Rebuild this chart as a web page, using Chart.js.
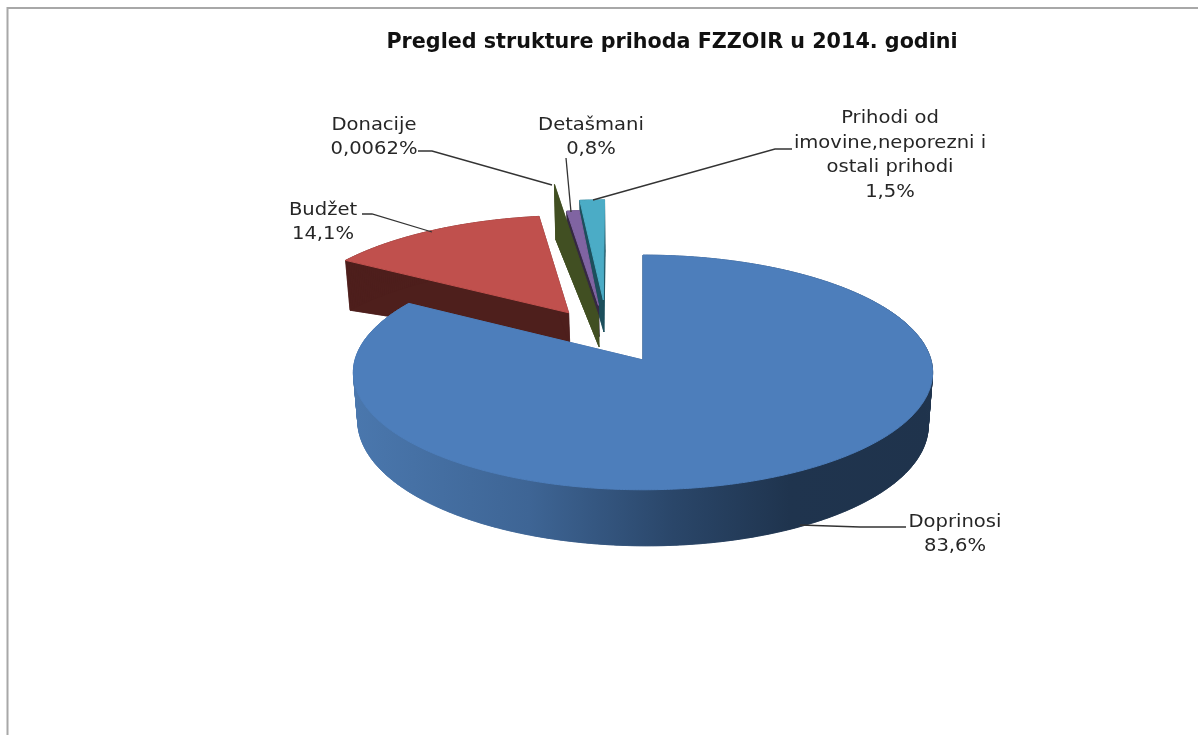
<!DOCTYPE html>
<html><head><meta charset="utf-8">
<style>html,body{margin:0;padding:0;background:#fff}canvas{display:block}</style>
<script src="https://cdn.jsdelivr.net/npm/chart.js@4"></script>
</head><body><canvas id="c" width="1198" height="735"></canvas>
<script>
const chartTitle = "Pregled strukture prihoda FZZOIR u 2014. godini";
const categories = ["Doprinosi","Budžet","Donacije","Detašmani","Prihodi od imovine,neporezni i ostali prihodi"];
const values = [83.6,14.1,0.0062,0.8,1.5];
const percentLabels = ["83,6%","14,1%","0,0062%","0,8%","1,5%"];
const explodePercent = [25,25,18,28,33];
const radialStretch = [1,1.01,1.42,1,1.07];
const lateralNudge = [0,-0.008,-0.012,-0.006,-0.007];
const angularSpin = [0,0,0,0,-0.01];
const topColors = ["#4d7ebb","#c0504d","#9bbb59","#8064a2","#4bacc6"];
const sideColors = [null,"#4e1f1c","#414f22","#352942","#1c4f5c"];
const paintSteps = [[4,'side'],[3,'side'],[4,'top'],[2,'side'],[3,'top'],[1,'side'],[1,'top'],[0,'side'],[0,'top']];
const labelLines = [["Doprinosi"],["Budžet"],["Donacije"],["Detašmani"],["Prihodi od","imovine,neporezni i","ostali prihodi"]];
const labelAnchors = [[955,522.5],[323,210.5],[374,125.5],[591,125.5],[890,119]];
const leaders = [
  [[906,527],[860,527],[800,525]],
  [[362,214],[372,214],[432,232]],
  [[418,151],[432,151],[552,185]],
  [[566,158],[571,212]],
  [[792,149],[775,149],[593,200]]
];
const view = {x0:643,y0:360,rx:288,ry:116,q:0.106,shrink:0.985,hubX:-0.156,hubY:-0.44,depthBase:30,depthGain:18};

function proj(tx,ty){const w=1-view.q*ty;return [view.x0+view.rx*tx/w,view.y0+view.ry*ty/w];}
function under(tx,ty){const p=proj(tx,ty);const d=view.depthBase+view.depthGain*Math.hypot(tx-view.hubX,ty-view.hubY);
  return [view.x0+(p[0]-view.x0)*view.shrink,p[1]+d];}

const pie3d = {
  id:'pie3d',
  beforeDraw(chart){const c=chart.ctx;c.save();c.fillStyle='#fff';c.fillRect(0,0,chart.width,chart.height);
    c.strokeStyle='#a8a8a8';c.lineWidth=2;c.beginPath();c.moveTo(7.5,735);c.lineTo(7.5,8);c.lineTo(1198,8);c.stroke();c.restore();},
  beforeDatasetsDraw(chart){
    const c=chart.ctx,arcs=chart.getDatasetMeta(0).data;
    const mid=a=>(a.startAngle+a.endAngle)/2;
    const a0=arcs[0].getProps(['startAngle','endAngle']);
    const e0=explodePercent[0]/100, cx=-e0*Math.cos(mid(a0)), cy=-e0*Math.sin(mid(a0));
    const grad=c.createLinearGradient(355,0,935,0);
    grad.addColorStop(0,'#4a77ad');grad.addColorStop(.3,'#3e6595');grad.addColorStop(.55,'#2a4669');grad.addColorStop(.75,'#1f344e');grad.addColorStop(1,'#1f334c');
    c.save();c.lineJoin='round';
    const poly=ps=>{c.beginPath();ps.forEach((p,j)=>j?c.lineTo(p[0],p[1]):c.moveTo(p[0],p[1]));c.closePath();};
    paintSteps.forEach(([i,part])=>{
      const a=arcs[i].getProps(['startAngle','endAngle']);
      const off=(arcs[i].options.offset||0)/100, m=mid(a), ox=cx+off*Math.cos(m)+lateralNudge[i], oy=cy+off*Math.sin(m), s=radialStretch[i];
      const pts=[[ox,oy]], n=Math.max(1,Math.ceil((a.endAngle-a.startAngle)/0.01));
      for(let k=0;k<=n;k++){const t=a.startAngle+(a.endAngle-a.startAngle)*k/n+angularSpin[i];pts.push([ox+s*Math.cos(t),oy+s*Math.sin(t)]);}
      if(part==='side'){
        const side=i===0?grad:sideColors[i];
        c.fillStyle=side;c.strokeStyle=side;c.lineWidth=0.6;
        poly(pts.map(p=>under(p[0],p[1])));c.fill();c.stroke();
        for(let j=0;j<pts.length;j++){const u=pts[j],v=pts[(j+1)%pts.length];
          poly([proj(u[0],u[1]),proj(v[0],v[1]),under(v[0],v[1]),under(u[0],u[1])]);c.fill();c.stroke();}
      } else {
        c.fillStyle=arcs[i].options.backgroundColor;c.strokeStyle=c.fillStyle;c.lineWidth=1;
        poly(pts.map(p=>proj(p[0],p[1])));c.fill();c.stroke();
      }
    });
    c.restore();
    return false;
  },
  afterDraw(chart){
    const c=chart.ctx;c.save();
    c.strokeStyle='#333';c.lineWidth=1.3;
    leaders.forEach(l=>{c.beginPath();l.forEach((p,j)=>j?c.lineTo(p[0],p[1]):c.moveTo(p[0],p[1]));c.stroke();});
    c.fillStyle='#262626';c.font='17px "DejaVu Sans"';c.textAlign='center';c.textBaseline='middle';
    labelLines.forEach((ls,i)=>{[...ls,percentLabels[i]].forEach((t,j)=>{
      c.save();c.translate(labelAnchors[i][0],labelAnchors[i][1]+j*24.5);c.scale(1.15,1);c.fillText(t,0,0);c.restore();});});
    c.restore();
  }
};

new Chart(document.getElementById('c'),{
  type:'pie',
  data:{labels:categories,datasets:[{data:values,backgroundColor:topColors,borderWidth:0,offset:explodePercent}]},
  options:{responsive:false,animation:false,
    layout:{padding:{left:146,right:0,top:0,bottom:10}},
    plugins:{legend:{display:false},tooltip:{enabled:false},
      title:{display:true,text:chartTitle,color:'#111',font:{family:'"DejaVu Sans"',size:20.7,weight:'bold'},padding:{top:30,bottom:10}}}},
  plugins:[pie3d]
});
</script></body></html>
